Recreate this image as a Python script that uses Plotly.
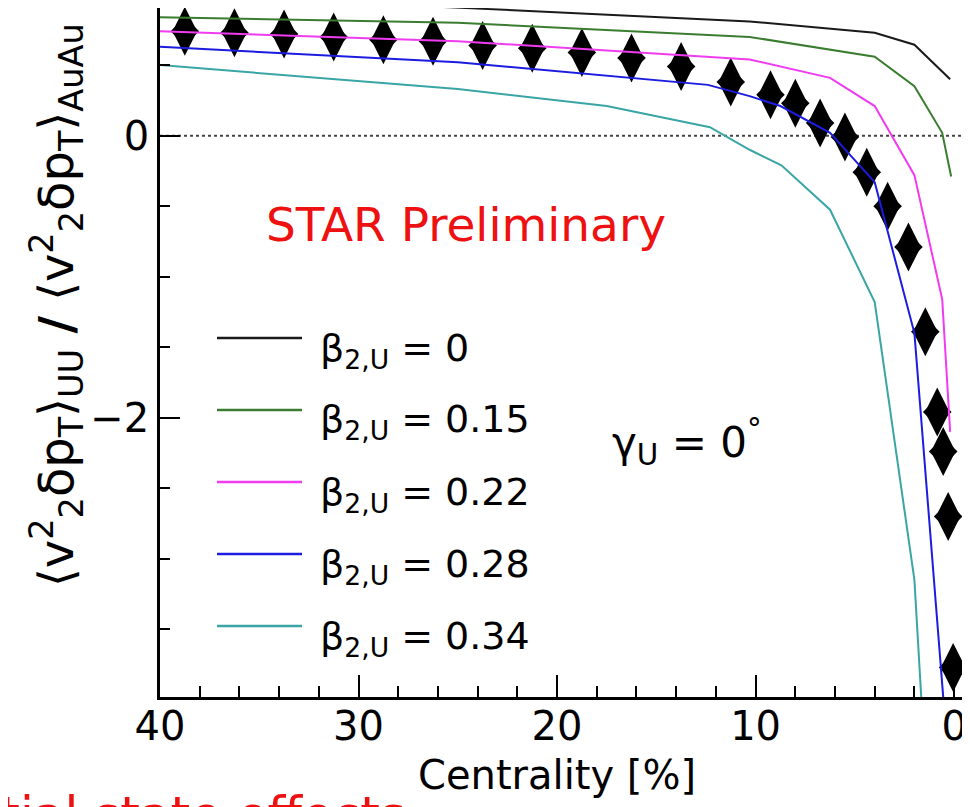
import plotly.graph_objects as go

# STAR preliminary points (diamonds): centrality [%] and ratio UU/AuAu
cent_data = [38.75, 36.25, 33.75, 31.25, 28.75, 26.25, 23.75, 21.25, 18.75, 16.25, 13.75, 11.25,
             9.25, 8.0, 6.75, 5.5, 4.4, 3.35, 2.3, 1.45, 0.85, 0.55, 0.3, 0.05]
ratio_data = [0.74, 0.73, 0.72, 0.70, 0.68, 0.67, 0.64, 0.62, 0.59, 0.55, 0.49, 0.38,
              0.29, 0.23, 0.09, -0.01, -0.26, -0.50, -0.79, -1.39, -1.96, -2.24, -2.70, -3.77]

# model curves for different beta_2,U
cent_b000 = [40, 25.4, 10.3, 4, 2, 0.2]
ratio_b000 = [1.0, 0.91, 0.81, 0.73, 0.645, 0.40]
cent_b015 = [40, 25, 10.3, 4, 2, 0.6, 0.15]
ratio_b015 = [0.84, 0.80, 0.70, 0.56, 0.35, 0.02, -0.29]
cent_b022 = [40, 25, 10.3, 6.25, 4, 2, 0.6, 0.2]
ratio_b022 = [0.74, 0.67, 0.54, 0.41, 0.21, -0.28, -1.16, -2.1]
cent_b028 = [40, 25, 12.4, 10.3, 8.75, 6.25, 4, 2, 0.2]
ratio_b028 = [0.63, 0.52, 0.36, 0.28, 0.21, 0.02, -0.33, -1.40, -4.6]
cent_b034 = [40, 25, 17.5, 12.3, 10.3, 8.7, 6.25, 4, 2, 0.2]
ratio_b034 = [0.50, 0.33, 0.21, 0.06, -0.10, -0.21, -0.525, -1.18, -3.15, -7.5]

beta_labels = ["0", "0.15", "0.22", "0.28", "0.34"]
colors = ["#1a1a1a", "#3b7d30", "#f03cf0", "#1c1ce0", "#3aa5a5"]
curves = [(cent_b000, ratio_b000), (cent_b015, ratio_b015), (cent_b022, ratio_b022),
          (cent_b028, ratio_b028), (cent_b034, ratio_b034)]

OFF = 8  # page body margin
W, H = 970 - OFF, 807 - OFF
L, R, T, B = 160 - OFF, 0, 8 - OFF, 110
FONT = "DejaVu Sans"


# screen pixel -> paper coords
def px(x):
    return (x - OFF - L) / (W - L - R)


def py(y):
    return (H - B - (y - OFF)) / (H - T - B)


fig = go.Figure()

# diamonds
fig.add_trace(go.Scatter(x=cent_data, y=ratio_data, mode="markers", showlegend=False,
                         marker=dict(symbol="diamond", size=22, color="black")))
fig.add_trace(go.Scatter(x=cent_data, y=ratio_data, mode="markers", showlegend=False,
                         marker=dict(symbol="diamond-tall", size=35, color="black")))

for (cx, cy), col in zip(curves, colors):
    fig.add_trace(go.Scatter(x=cx, y=cy, mode="lines", showlegend=False,
                             line=dict(color=col, width=2)))

# zero line + hand-drawn legend
shapes = [dict(type="line", xref="paper", yref="y", x0=0, x1=1, y0=0, y1=0, layer="below",
               line=dict(color="#444444", width=2, dash="dot"))]
ann = []
for i, (lab, col) in enumerate(zip(beta_labels, colors)):
    yl = 338 + 72 * i
    shapes.append(dict(type="line", xref="paper", yref="paper", x0=px(217), x1=px(302),
                       y0=py(yl), y1=py(yl), line=dict(color=col, width=2.5)))
    ann.append(dict(xref="paper", yref="paper", x=px(318), y=py(yl + 12), xanchor="left",
                    yanchor="middle", showarrow=False,
                    text="β<sub>2,U</sub> = " + lab, font=dict(size=38, color="black", family=FONT)))

ann.append(dict(xref="paper", yref="paper", x=px(264), y=py(224), xanchor="left", yanchor="middle",
                showarrow=False, text="STAR Preliminary", font=dict(size=47, color="#ee1111", family=FONT)))
ann.append(dict(xref="paper", yref="paper", x=px(610), y=py(442), xanchor="left", yanchor="middle",
                showarrow=False, text="γ<sub>U</sub> = 0<sup>°</sup>", font=dict(size=42, color="black", family=FONT)))
ann.append(dict(xref="paper", yref="paper", x=px(557), y=py(775), xanchor="center", yanchor="middle",
                showarrow=False, text="Centrality [%]", font=dict(size=40, color="black", family=FONT)))
ann.append(dict(xref="paper", yref="paper", x=px(408), y=py(784), xanchor="right", yanchor="top",
                showarrow=False, text="Initial state effects", font=dict(size=50, color="#ee1111", family=FONT)))
ann.append(dict(xref="paper", yref="paper", x=px(56), y=py(305), xanchor="center", yanchor="middle",
                textangle=-90, showarrow=False,
                text="⟨v<sup>2</sup><sub>2</sub>δp<sub>T</sub>⟩<sub>UU</sub> <b>/</b> "
                     "⟨v<sup>2</sup><sub>2</sub>δp<sub>T</sub>⟩<sub>AuAu</sub>",
                font=dict(size=48, color="black", family=FONT)))

fig.update_layout(
    width=W, height=H, margin=dict(l=L, r=R, t=T, b=B, autoexpand=False),
    plot_bgcolor="white", paper_bgcolor="white",
    annotations=ann, shapes=shapes,
    xaxis=dict(range=[40, -0.8], tick0=0, dtick=10, ticks="inside", ticklen=22, tickwidth=2,
               tickcolor="black", showline=True, linecolor="black", linewidth=2.5,
               showgrid=False, zeroline=False, automargin=False, ticklabelstandoff=-8,
               tickfont=dict(size=40, color="black", family=FONT),
               minor=dict(dtick=2, ticks="inside", ticklen=11, tickwidth=2, tickcolor="black", showgrid=False)),
    yaxis=dict(range=[-3.98, 0.905], tick0=0, dtick=2, ticks="inside", ticklen=20, tickwidth=2,
               tickcolor="black", showline=True, linecolor="black", linewidth=2.5,
               showgrid=False, zeroline=False, automargin=False,
               tickfont=dict(size=40, color="black", family=FONT),
               minor=dict(dtick=0.5, ticks="inside", ticklen=10, tickwidth=2, tickcolor="black", showgrid=False)),
)

fig.write_html("out.html")
